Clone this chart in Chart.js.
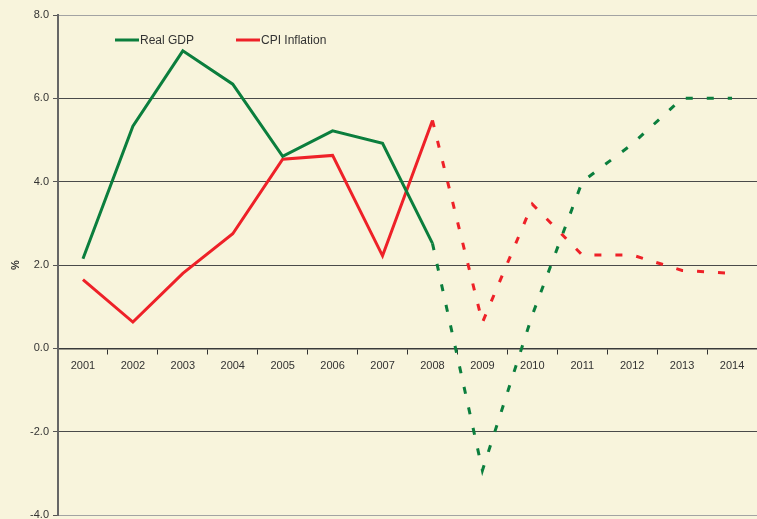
<!DOCTYPE html>
<html>
<head>
<meta charset="utf-8">
<script src="https://cdn.jsdelivr.net/npm/chart.js@4"></script>
<style>
html,body{margin:0;padding:0;background:#f8f4dc;}
#wrap{width:757px;height:519px;}
</style>
</head>
<body>
<div id="wrap"><canvas id="c" width="757" height="519"></canvas></div>
<script>
const years = ['2001','2002','2003','2004','2005','2006','2007','2008','2009','2010','2011','2012','2013','2014'];
const realGDP = [2.15, 5.33, 7.14, 6.34, 4.61, 5.22, 4.92, 2.52, -2.93, 0.8, 4.0, 4.9, 6.0, 6.0];
const cpiInflation = [1.65, 0.63, 1.8, 2.75, 4.54, 4.63, 2.22, 5.47, 0.62, 3.46, 2.24, 2.24, 1.87, 1.8];
const seriesNames = ['Real GDP', 'CPI Inflation'];
const yMin = -4, yMax = 8, yStep = 2;
const forecastFrom = 7; // index of 2008, dashed afterwards

const GREEN = '#0b7e3d';
const RED = '#ee2128';
const FONT = '"Liberation Sans", Arial, sans-serif';

const bgPlugin = {
  id: 'bg',
  beforeDraw(chart) {
    const ctx = chart.ctx;
    ctx.save();
    ctx.fillStyle = '#f8f4dc';
    ctx.fillRect(0, 0, chart.width, chart.height);
    ctx.restore();
  }
};

const legendPlugin = {
  id: 'customLegend',
  afterDraw(chart) {
    const ctx = chart.ctx;
    const items = [
      {x: 115, color: GREEN, text: seriesNames[0]},
      {x: 236, color: RED, text: seriesNames[1]}
    ];
    ctx.save();
    ctx.font = '12px ' + FONT;
    ctx.textBaseline = 'middle';
    items.forEach(it => {
      ctx.strokeStyle = it.color;
      ctx.lineWidth = 3;
      ctx.beginPath();
      ctx.moveTo(it.x, 40);
      ctx.lineTo(it.x + 24, 40);
      ctx.stroke();
      ctx.fillStyle = '#333';
      ctx.fillText(it.text, it.x + 25, 40.5);
    });
    ctx.restore();
  }
};

const dashSeg = {
  borderDash: ctx => ctx.p0DataIndex >= forecastFrom ? [7, 14] : undefined
};

new Chart(document.getElementById('c'), {
  type: 'line',
  data: {
    labels: years,
    datasets: [
      {label: seriesNames[0], data: realGDP, borderColor: GREEN, borderWidth: 3, pointRadius: 0, tension: 0, fill: false, borderCapStyle: 'butt', borderJoinStyle: 'miter', segment: dashSeg},
      {label: seriesNames[1], data: cpiInflation, borderColor: RED, borderWidth: 3, pointRadius: 0, tension: 0, fill: false, borderCapStyle: 'butt', borderJoinStyle: 'miter', segment: dashSeg}
    ]
  },
  options: {
    responsive: false,
    animation: false,
    layout: {padding: {top: 15, bottom: 4, left: 0, right: 0}},
    plugins: {legend: {display: false}, tooltip: {enabled: false}},
    scales: {
      x: {
        type: 'category',
        position: {y: 0},
        offset: true,
        grid: {display: true, drawOnChartArea: false, drawTicks: true, tickLength: 5, tickColor: '#333', offset: true},
        border: {display: true, color: '#3a3a3a', width: 1.5},
        ticks: {color: '#333', font: {family: FONT, size: 11}, padding: 6, maxRotation: 0, autoSkip: false}
      },
      y: {
        min: yMin, max: yMax,
        afterFit(s) { s.width = 58; s.paddingTop = 0; s.paddingBottom = 0; },
        ticks: {stepSize: yStep, color: '#333', font: {family: FONT, size: 11}, padding: 4, callback: v => Number(v).toFixed(1)},
        grid: {
          color: ctx => (ctx.tick && (ctx.tick.value === yMax || ctx.tick.value === yMin)) ? '#a3a3a3' : '#4a4a4a',
          lineWidth: 1, tickLength: 5, tickColor: '#555'
        },
        border: {display: true, color: '#666', width: 2},
        title: {display: true, text: '%', color: '#333', font: {family: FONT, size: 11, weight: 'bold'}, padding: {top: 9, bottom: 0}}
      }
    }
  },
  plugins: [bgPlugin, legendPlugin]
});
</script>
</body>
</html>
